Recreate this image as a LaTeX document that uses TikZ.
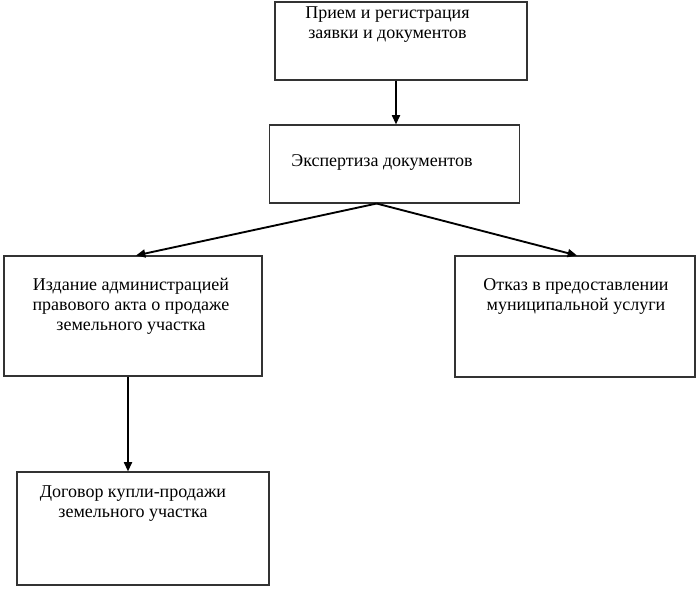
\documentclass[tikz,border=0pt]{standalone}
\usepackage{fontspec}
\setmainfont{Liberation Serif}
\usetikzlibrary{arrows.meta,calc}
\begin{document}
\begin{tikzpicture}[x=0.75pt,y=-0.75pt,
  box/.style={draw=black!80, line width=0.8pt, inner sep=0pt},
  txt/.style={align=center, inner sep=0pt, font=\fontsize{13.5}{15}\selectfont},
  arr/.style={line width=1.4pt, -{Triangle[length=7pt,width=6pt]}}]
\useasboundingbox (0,0) rectangle (700,593);
\node[box, minimum width=189pt, minimum height=58.5pt] (a) at (401,41) {};
\node[box, minimum width=188pt, minimum height=58.5pt] (b) at (394.5,164) {};
\node[box, minimum width=193.5pt, minimum height=90pt] (c) at (133,316) {};
\node[box, minimum width=180pt, minimum height=90.75pt] (d) at (575,316.5) {};
\node[box, minimum width=189pt, minimum height=84.75pt] (e) at (143,528.5) {};
\node[txt] (ta) at (387.5,25) {Прием и регистрация\\заявки и документов};
\node[txt] (tb) at (382,162) {Экспертиза документов};
\node[txt] (tc) at (131,306) {Издание администрацией\\правового акта о продаже\\земельного участка};
\node[txt] (td) at (576,296) {Отказ в предоставлении\\муниципальной услуги};
\node[txt] (te) at (133,504) {Договор купли-продажи\\земельного участка};
\coordinate (bs) at ($(b.south west)+(108,0)$);
\draw[arr] ($(a.south)+(-5,0)$) -- ($(b.north)+(1.5,0)$);
\draw[arr] (bs) -- ($(c.north)+(3,0)$);
\draw[arr] (bs) -- ($(d.north)+(2,0)$);
\draw[arr] ($(c.south)+(-5,0)$) -- ($(e.north)+(-15,0)$);
\end{tikzpicture}
\end{document}
